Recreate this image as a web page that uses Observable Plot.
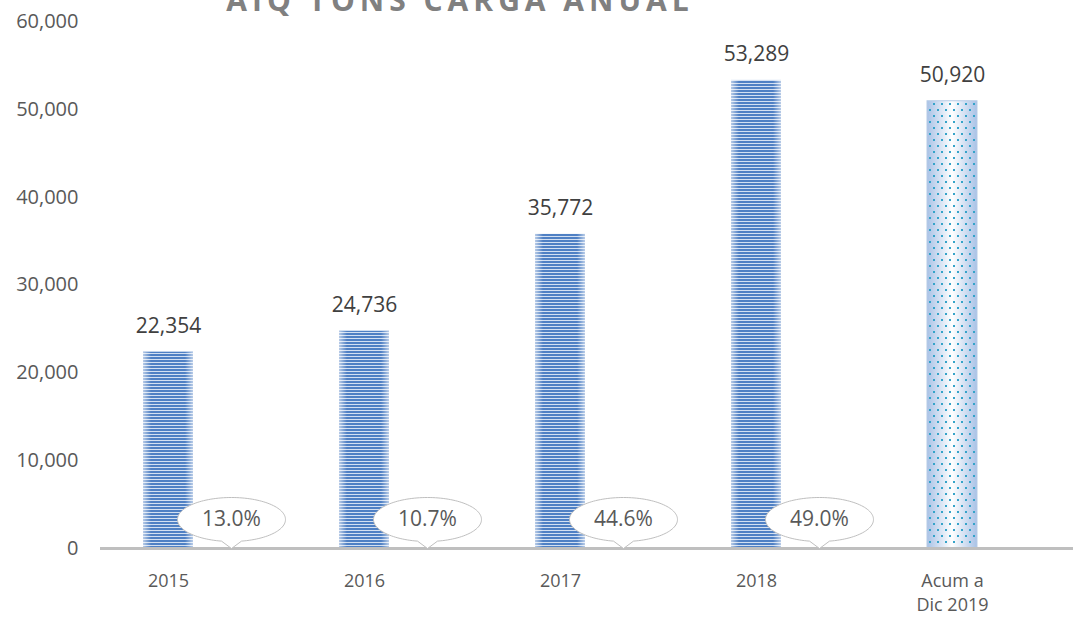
<!DOCTYPE html>
<html>
<head>
<meta charset="utf-8">
<script src="https://cdn.jsdelivr.net/npm/d3@7"></script>
<script src="https://cdn.jsdelivr.net/npm/@observablehq/plot@0.6"></script>
<style>
  html, body { margin: 0; padding: 0; background: #fff; overflow: hidden; }
  #wrap { position: relative; width: 1073px; height: 618px; }
  #title { position: absolute; left: 0; width: 920px; top: -15px; text-align: center;
           font-family: 'Open Sans', sans-serif; font-weight: 700; font-size: 30px; line-height: 1;
           letter-spacing: 5px; color: #808080; white-space: nowrap; z-index: 2; }
</style>
</head>
<body>
<div id="wrap"><div id="title"></div><div id="chart"></div></div>
<script>
const title = "AIQ TONS CARGA ANUAL";
const categories = ["2015", "2016", "2017", "2018", "Acum a\nDic 2019"];
const values = [22354, 24736, 35772, 53289, 50920];
const growthCategories = ["2015", "2016", "2017", "2018"];
const growthLabels = ["13.0%", "10.7%", "44.6%", "49.0%"];
const yTicks = [0, 10000, 20000, 30000, 40000, 50000, 60000];

document.getElementById("title").textContent = title;

const bars = categories.map((c, i) => ({cat: c, value: values[i], acum: i === categories.length - 1}));
const growth = growthCategories.map((c, i) => ({cat: c, label: growthLabels[i]}));
const fmt = d3.format(",");

// speech-bubble callout symbol: ellipse with a small tail pointing to the symbol origin
const callout = {
  draw(ctx) {
    const rx = 54, ry = 22, cy = -29, tw = 10;
    const t0 = Math.acos(tw / rx);
    const t1 = Math.PI - t0;
    ctx.moveTo(0, 0);
    const n = 120;
    const end = t0 + 2 * Math.PI;
    for (let k = 0; k <= n; k++) {
      const t = t1 + (end - t1) * k / n;
      ctx.lineTo(rx * Math.cos(t), cy + ry * Math.sin(t));
    }
    ctx.closePath();
  }
};

const defs = () => {
  const d = d3.create("svg:defs");
  const stripes = d.append("pattern").attr("id", "stripes").attr("patternUnits", "userSpaceOnUse")
    .attr("width", 4).attr("height", 3);
  stripes.append("rect").attr("width", 4).attr("height", 3).attr("fill", "#d3e0f2");
  stripes.append("rect").attr("width", 4).attr("height", 2).attr("fill", "#4f80c4");
  const edge = d.append("linearGradient").attr("id", "edge").attr("x1", 0).attr("x2", 1).attr("y1", 0).attr("y2", 0);
  [[0, 0.6], [0.16, 0], [0.84, 0], [1, 0.6]].forEach(([o, a]) =>
    edge.append("stop").attr("offset", o).attr("stop-color", "#ffffff").attr("stop-opacity", a));
  const soft = d.append("linearGradient").attr("id", "soft").attr("x1", 0).attr("x2", 1).attr("y1", 0).attr("y2", 0);
  [[0, "#a9c2e6"], [0.5, "#ffffff"], [1, "#a9c2e6"]].forEach(([o, c]) =>
    soft.append("stop").attr("offset", o).attr("stop-color", c));
  const dots = d.append("pattern").attr("id", "dots").attr("patternUnits", "userSpaceOnUse")
    .attr("width", 8).attr("height", 12);
  dots.append("rect").attr("x", 1).attr("y", 1).attr("width", 2).attr("height", 2).attr("fill", "#35a3c9");
  dots.append("rect").attr("x", 5).attr("y", 7).attr("width", 2).attr("height", 2).attr("fill", "#35a3c9");
  return d.node();
};

const chart = Plot.plot({
  width: 1073,
  height: 618,
  marginTop: 21,
  marginBottom: 70,
  marginLeft: 70,
  marginRight: 23,
  style: {fontFamily: "'Open Sans', sans-serif", fontSize: "18px", color: "#595959", background: "#fff"},
  x: {domain: categories, paddingInner: 0.745, paddingOuter: 0.3725, label: null},
  y: {domain: [0, 60000], label: null},
  marks: [
    defs,
    Plot.barY(bars, {filter: d => !d.acum, x: "cat", y: "value", fill: "url(#stripes)"}),
    Plot.barY(bars, {filter: d => !d.acum, x: "cat", y: "value", fill: "url(#edge)"}),
    Plot.barY(bars, {filter: d => d.acum, x: "cat", y: "value", fill: "url(#soft)", stroke: "#b7cbe6", strokeWidth: 1}),
    Plot.barY(bars, {filter: d => d.acum, x: "cat", y: "value", fill: "url(#dots)"}),
    Plot.ruleY([0], {stroke: "#bfbfbf", strokeWidth: 3, insetLeft: 30, insetRight: -23}),
    Plot.text(bars, {x: "cat", y: "value", text: d => fmt(d.value), dy: -26, fill: "#404040", fontSize: 21}),
    Plot.dot(growth, {x: "cat", y: 0, dx: 63, dy: 0, symbol: callout, r: 5, fill: "white", stroke: "#bfbfbf", strokeWidth: 1}),
    Plot.text(growth, {x: "cat", y: 0, dx: 63, dy: -29, text: "label", fill: "#595959", fontSize: 21}),
    Plot.axisY({ticks: yTicks, tickFormat: fmt, tickSize: 0, tickPadding: -8, fill: "#595959", fontSize: 20}),
    Plot.axisX({tickSize: 0, tickPadding: 21, fill: "#595959", fontSize: 18, lineHeight: 1.35})
  ]
});
document.getElementById("chart").appendChild(chart);
</script>
</body>
</html>
